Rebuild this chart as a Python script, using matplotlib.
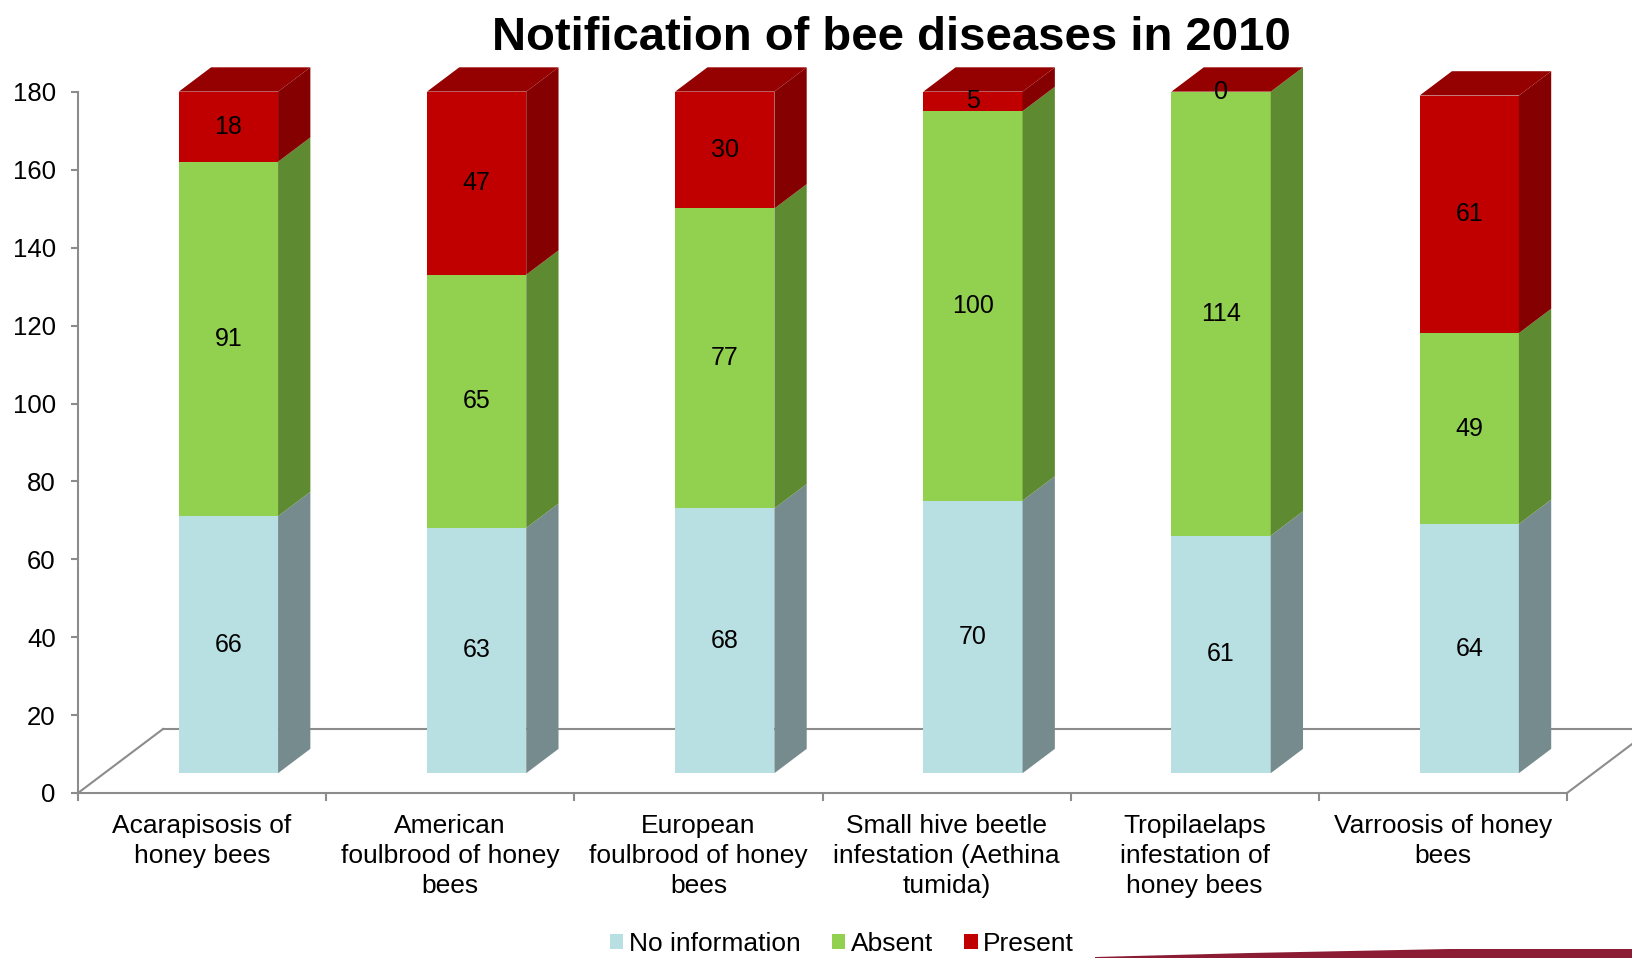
import matplotlib
matplotlib.use("Agg")
import matplotlib.pyplot as plt
from matplotlib.patches import Polygon, Patch

plt.rcParams['font.family'] = ['Liberation Sans', 'DejaVu Sans']

categories = ["Acarapisosis of\nhoney bees",
              "American\nfoulbrood of honey\nbees",
              "European\nfoulbrood of honey\nbees",
              "Small hive beetle\ninfestation (Aethina\ntumida)",
              "Tropilaelaps\ninfestation of\nhoney bees",
              "Varroosis of honey\nbees"]
no_info = [66, 63, 68, 70, 61, 64]
absent = [91, 65, 77, 100, 114, 49]
present = [18, 47, 30, 5, 0, 61]
series_names = ["No information", "Absent", "Present"]

front_colors = ['#b8dfe1', '#92d050', '#c00000']
side_colors = ['#768b8d', '#5e8a31', '#850000']
top_color = '#950000'

# fake 3d: depth offset in data units (x in categories, y in values)
DX, DY = 0.3425, 16.43
D0, D1 = 0.31, 0.69
BAR_L, BAR_R = 0.3, 0.7


def proj(x, v, d):
    return (x + d * DX, v + d * DY)


fig = plt.figure(figsize=(16.32, 9.58), dpi=100)
ax = fig.add_axes([78 / 1632, 165 / 958, 1489 / 1632, 701 / 958])
ax.set_xlim(0, 6)
ax.set_ylim(0, 180)

grey = '#8c8c8c'
# floor outline
ax.plot(*zip(proj(0, 0, 0), proj(0, 0, 1)), color=grey, lw=1.5, clip_on=False, zorder=1)
ax.plot(*zip(proj(0, 0, 1), proj(6.5, 0, 1)), color=grey, lw=1.5, clip_on=False, zorder=1)
ax.plot(*zip(proj(6, 0, 0), proj(6, 0, 1)), color=grey, lw=1.5, clip_on=False, zorder=1)

stacks = [no_info, absent, present]
for i in range(len(categories)):
    base = 0
    x0, x1 = i + BAR_L, i + BAR_R
    for s, vals in enumerate(stacks):
        v = vals[i]
        top = base + v
        if v > 0:
            front = [proj(x0, base, D0), proj(x1, base, D0), proj(x1, top, D0), proj(x0, top, D0)]
            side = [proj(x1, base, D0), proj(x1, base, D1), proj(x1, top, D1), proj(x1, top, D0)]
            ax.add_patch(Polygon(front, closed=True, fc=front_colors[s], ec='none', zorder=3, clip_on=False))
            ax.add_patch(Polygon(side, closed=True, fc=side_colors[s], ec='none', zorder=3, clip_on=False))
        tx, ty = proj(i + 0.5, base + v / 2, D0)
        ax.text(tx, ty, str(v), ha='center', va='center', fontsize=18, zorder=5, clip_on=False)
        base = top
    lid = [proj(x0, base, D0), proj(x1, base, D0), proj(x1, base, D1), proj(x0, base, D1)]
    ax.add_patch(Polygon(lid, closed=True, fc=top_color, ec='none', zorder=4, clip_on=False))

for sp in ['top', 'right']:
    ax.spines[sp].set_visible(False)
for sp in ['left', 'bottom']:
    ax.spines[sp].set_color(grey)
    ax.spines[sp].set_linewidth(1.5)

ax.set_yticks(range(0, 181, 20))
ax.tick_params(axis='y', labelsize=18.5, length=5, width=1.5, color=grey, pad=11)
ax.set_xticks(range(0, 7))
ax.set_xticklabels([])
ax.tick_params(axis='x', which='major', length=6, width=1.5, color=grey)
ax.set_xticks([i + 0.5 for i in range(6)], minor=True)
ax.set_xticklabels(categories, minor=True, fontsize=19, linespacing=1.32)
ax.tick_params(axis='x', which='minor', length=0, pad=15)

fig.text(891 / 1632, 1 - 38 / 958, "Notification of bee diseases in 2010",
         ha='center', va='center', fontsize=34, fontweight='bold')

handles = [Patch(fc=c, ec='none', label=n) for c, n in zip(front_colors, series_names)]
fig.legend(handles=handles, loc='center', bbox_to_anchor=(842 / 1632, 1 - 944 / 958),
           ncol=3, frameon=False, fontsize=19, handlelength=0.5, handleheight=0.5,
           handletextpad=0.2, columnspacing=1.2, borderpad=0)

# slide decoration at the bottom right
swoosh = [(1095, 957), (1250, 953), (1450, 949), (1632, 949), (1632, 958), (1095, 958)]
swoosh = [(px / 1632, 1 - py / 958) for px, py in swoosh]
fig.patches.append(Polygon(swoosh, closed=True, transform=fig.transFigure,
                           fc='#8b1c33', ec='none'))

fig.savefig("out.png", dpi=100)
